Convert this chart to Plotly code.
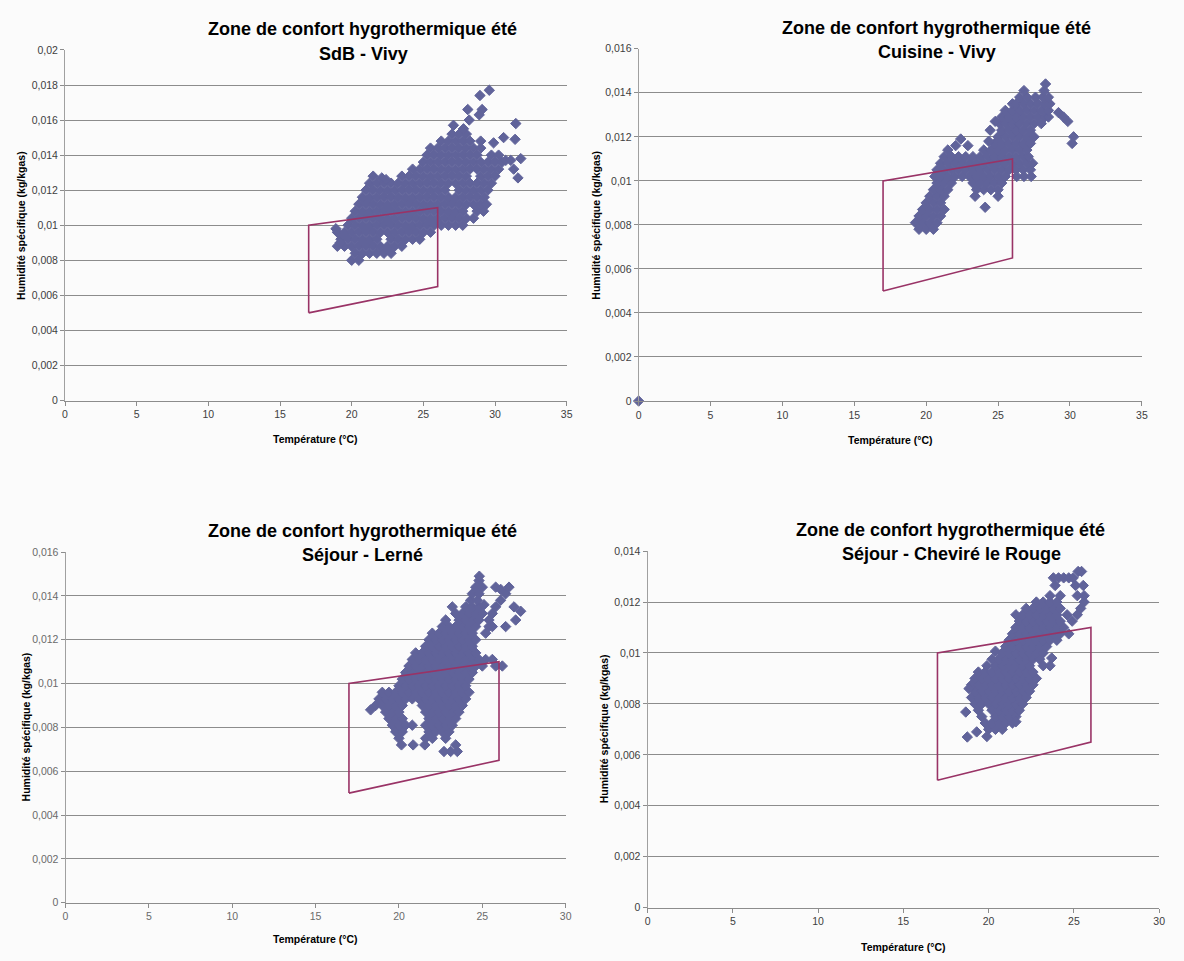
import plotly.graph_objects as go

# ---------------- DATA ----------------
zone_t = [17, 17, 26, 26, 17]
zone_h = [0.005, 0.010, 0.011, 0.0065, 0.005]

x_ticks_35 = [0, 5, 10, 15, 20, 25, 30, 35]
x_ticks_30 = [0, 5, 10, 15, 20, 25, 30]
y_ticks_020 = [0, 0.002, 0.004, 0.006, 0.008, 0.010, 0.012, 0.014, 0.016, 0.018, 0.020]
y_text_020 = ["0", "0,002", "0,004", "0,006", "0,008", "0,01", "0,012", "0,014", "0,016", "0,018", "0,02"]
y_ticks_016 = [0, 0.002, 0.004, 0.006, 0.008, 0.010, 0.012, 0.014, 0.016]
y_text_016 = ["0", "0,002", "0,004", "0,006", "0,008", "0,01", "0,012", "0,014", "0,016"]
y_ticks_014 = [0, 0.002, 0.004, 0.006, 0.008, 0.010, 0.012, 0.014]
y_text_014 = ["0", "0,002", "0,004", "0,006", "0,008", "0,01", "0,012", "0,014"]

titles = ["SdB - Vivy", "Cuisine - Vivy", "Séjour - Lerné", "Séjour - Cheviré le Rouge"]

# Panel 1 : SdB - Vivy  (humidity, [temperatures])
p1_rows = [
    (0.0080, [20.0, 20.5]),
    (0.0084, [20.25, 20.75, 21.25, 21.75, 22.25, 22.75]),
    (0.0088, [19.0, 19.5, 20.0, 20.5, 21.0, 21.5, 22.0, 22.5, 23.0, 23.5]),
    (0.0092, [19.25, 19.75, 20.25, 20.75, 21.25, 21.75, 22.75, 23.25, 23.75, 24.25, 24.75]),
    (0.0096, [19.0, 19.5, 20.0, 20.5, 21.0, 21.5, 22.0, 22.5, 23.0, 23.5, 24.0, 24.5, 25.0, 25.5]),
    (0.0100, [19.75, 20.25, 20.75, 21.25, 21.75, 22.25, 22.75, 23.25, 23.75, 24.25, 24.75, 25.25, 25.75,
              26.25, 26.75, 27.25, 27.75]),
    (0.0104, [20.0, 20.5, 21.0, 21.5, 22.0, 22.5, 23.0, 23.5, 24.0, 24.5, 25.0, 25.5, 26.0, 26.5, 27.0,
              27.5, 28.0, 28.5]),
    (0.0108, [20.25, 20.75, 21.25, 21.75, 22.25, 22.75, 23.25, 23.75, 24.25, 24.75, 25.25, 25.75, 26.25,
              26.75, 27.25, 27.75, 28.75, 29.2]),
    (0.0112, [20.5, 21.0, 21.5, 22.0, 22.5, 23.0, 23.5, 24.0, 24.5, 25.0, 25.5, 26.0, 26.5, 27.0, 27.5,
              28.0, 28.5, 29.0, 29.4]),
    (0.0116, [20.75, 21.25, 21.75, 22.25, 22.75, 23.25, 23.75, 24.25, 24.75, 25.25, 25.75, 26.25, 26.75,
              27.25, 27.75, 28.25, 28.75, 29.25]),
    (0.0120, [21.0, 21.5, 22.0, 22.5, 23.0, 23.5, 24.0, 24.5, 25.0, 25.5, 26.0, 26.5, 27.5, 28.0, 28.5,
              29.0, 29.5]),
    (0.0124, [21.25, 21.75, 22.25, 22.75, 23.25, 23.75, 24.25, 24.75, 25.25, 25.75, 26.25, 26.75, 27.25,
              27.75, 28.25, 28.75, 29.25, 29.75]),
    (0.0128, [21.5, 23.5, 24.0, 24.5, 25.0, 25.5, 26.0, 26.5, 27.0, 27.5, 28.0, 29.0, 29.5, 30.0]),
    (0.0132, [24.25, 24.75, 25.25, 25.75, 26.25, 26.75, 27.25, 27.75, 28.25, 28.75, 29.25, 29.75, 30.25]),
    (0.0136, [25.0, 25.5, 26.0, 26.5, 27.0, 27.5, 28.0, 28.5, 29.0, 29.5, 30.0, 30.5]),
    (0.0140, [25.25, 25.75, 26.25, 26.75, 27.25, 27.75, 28.25, 28.75, 29.75, 30.25]),
    (0.0144, [25.5, 26.0, 26.5, 27.0, 27.5, 28.0, 28.5, 29.0]),
    (0.0148, [26.25, 26.75, 27.25, 27.75, 28.25, 29.0]),
    (0.0152, [27.0, 27.5, 28.0]),
]
p1_out_t = [18.9, 19.2, 22.1, 22.4, 27.1, 27.8, 28.2, 28.1, 28.9, 29.1, 28.95, 29.6,
            29.9, 30.6, 31.4, 31.45, 30.75, 31.1, 31.8, 31.3, 31.6]
p1_out_h = [0.0098, 0.0090, 0.0127, 0.0126, 0.0157, 0.0155, 0.0160, 0.0166, 0.0163, 0.0166, 0.0174, 0.0177,
            0.0147, 0.0150, 0.0149, 0.0158, 0.0137, 0.0137, 0.0138, 0.0132, 0.0127]

# Panel 2 : Cuisine - Vivy
p2_rows = [
    (0.0078, [19.5, 20.0, 20.5]),
    (0.0081, [19.25, 19.75, 20.25, 20.75]),
    (0.0084, [19.5, 20.0, 20.5, 21.0]),
    (0.0087, [19.75, 20.25, 20.75, 21.25]),
    (0.0090, [20.0, 20.5, 21.0]),
    (0.0093, [20.25, 20.75, 21.25, 23.4, 25.0]),
    (0.0096, [20.5, 21.0, 21.5, 23.5, 24.0, 24.5, 25.0]),
    (0.0099, [20.75, 21.25, 21.75, 23.25, 23.75, 24.25, 24.75, 25.25]),
    (0.0102, [20.6, 21.0, 21.5, 22.0, 22.5, 23.0, 23.5, 24.0, 24.5, 25.0, 25.5, 26.3, 26.8, 27.3]),
    (0.0105, [20.75, 21.25, 21.75, 22.25, 22.75, 23.25, 23.75, 24.25, 24.75, 25.25, 25.75, 26.25, 26.75, 27.25]),
    (0.0108, [21.0, 21.5, 22.0, 22.5, 23.0, 23.5, 24.0, 24.5, 25.0, 25.5, 26.0, 26.5, 27.0, 27.4]),
    (0.0111, [21.25, 21.75, 22.25, 22.75, 23.25, 23.75, 24.25, 24.75, 25.25, 25.75, 26.25, 26.75, 27.1]),
    (0.0114, [21.5, 24.0, 24.5, 25.0, 25.5, 26.0, 26.5, 27.0]),
    (0.0117, [24.75, 25.25, 25.75, 26.25, 26.75, 27.25]),
    (0.0120, [25.0, 25.5, 26.0, 26.5, 27.0, 27.5]),
    (0.0123, [25.25, 25.75, 26.25, 26.75, 27.25]),
    (0.0126, [25.1, 25.5, 26.0, 26.5, 27.0, 27.5, 28.0]),
    (0.0129, [25.25, 25.75, 26.25, 26.75, 27.25, 27.75, 28.25, 28.5]),
    (0.0132, [25.5, 26.0, 26.5, 27.0, 27.5, 28.0, 28.5]),
    (0.0135, [26.0, 26.25, 26.75, 27.25, 27.75, 28.25, 28.6]),
    (0.0138, [26.5, 27.0, 27.6, 28.1, 28.5]),
    (0.0141, [26.8, 28.2]),
    (0.0144, [28.3]),
]
p2_out_t = [0.0, 24.1, 22.05, 22.9, 22.4, 24.35, 24.45, 24.8, 29.2, 29.55, 29.85, 30.25, 30.15]
p2_out_h = [0.0, 0.0088, 0.0116, 0.0116, 0.0119, 0.0118, 0.0123, 0.0127, 0.0131, 0.0129, 0.0127, 0.0120, 0.0117]

# Panel 3 : Séjour - Lerné
p3_rows = [
    (0.0069, [22.7, 23.1, 23.5]),
    (0.0072, [20.15, 20.85, 21.55, 23.4]),
    (0.0075, [20.0, 21.6, 22.0, 22.8]),
    (0.0078, [19.8, 20.2, 21.8, 22.2, 22.6, 23.0]),
    (0.0081, [19.6, 20.0, 20.4, 20.8, 21.6, 22.0, 22.4, 22.8, 23.2]),
    (0.0084, [19.4, 19.8, 20.2, 21.8, 22.2, 22.6, 23.0, 23.4]),
    (0.0087, [19.2, 19.6, 20.0, 21.6, 22.0, 22.4, 22.8, 23.2, 23.6]),
    (0.0090, [18.6, 19.0, 19.4, 19.8, 20.2, 21.4, 21.8, 22.2, 22.6, 23.0, 23.4, 23.8]),
    (0.0093, [18.8, 19.2, 19.6, 20.0, 20.4, 20.8, 21.2, 21.6, 22.0, 22.4, 22.8, 23.2, 23.6, 24.0]),
    (0.0096, [19.0, 19.4, 19.8, 20.2, 20.6, 21.0, 21.4, 21.8, 22.2, 22.6, 23.0, 23.4, 23.8, 24.2]),
    (0.0099, [20.0, 20.4, 20.8, 21.2, 21.6, 22.0, 22.4, 22.8, 23.2, 23.6, 24.0]),
    (0.0102, [20.2, 20.6, 21.0, 21.4, 21.8, 22.2, 22.6, 23.0, 23.4, 23.8, 24.2]),
    (0.0105, [20.4, 20.8, 21.2, 21.6, 22.0, 22.4, 22.8, 23.2, 23.6, 24.0, 24.4]),
    (0.0108, [20.6, 21.0, 21.4, 21.8, 22.2, 22.6, 23.0, 23.4, 23.8, 24.2, 24.6, 25.0, 25.8, 26.2]),
    (0.0111, [20.8, 21.2, 21.6, 22.0, 22.4, 22.8, 23.2, 23.6, 24.0, 24.4, 24.8, 25.2, 25.6]),
    (0.0114, [21.0, 21.4, 21.8, 22.2, 22.6, 23.0, 23.4, 23.8, 24.2, 24.6]),
    (0.0117, [21.6, 22.0, 22.4, 22.8, 23.2, 23.6, 24.0, 24.4]),
    (0.0120, [21.8, 22.2, 22.6, 23.0, 23.4, 23.8, 24.2, 24.6]),
    (0.0123, [22.0, 22.4, 22.8, 23.2, 23.6, 24.0, 24.4, 25.2]),
    (0.0126, [22.6, 23.0, 23.4, 23.8, 24.2, 24.6, 25.4, 25.6, 26.4]),
    (0.0129, [22.8, 23.6, 24.0, 24.4, 24.8, 25.4, 27.0]),
    (0.0132, [23.4, 23.8, 24.2, 24.6, 25.0, 25.6]),
    (0.0135, [23.2, 24.0, 24.4, 24.8, 25.8, 26.9]),
    (0.0138, [24.3, 24.7, 26.1]),
    (0.0141, [24.4, 24.8, 26.4]),
    (0.0144, [24.6, 25.0, 25.8, 26.6]),
    (0.0147, [24.8]),
]
p3_out_t = [24.82, 26.1, 27.3, 25.1, 18.3, 24.3]
p3_out_h = [0.0149, 0.0143, 0.0133, 0.0136, 0.0088, 0.0108]

# Panel 4 : Séjour - Cheviré le Rouge
p4_rows = [
    (0.00700, [20.0, 20.4, 20.8]),
    (0.00725, [19.8, 20.2, 20.6, 21.0, 21.4]),
    (0.00750, [19.6, 20.4, 20.8, 21.2, 21.6]),
    (0.00775, [19.4, 20.2, 20.6, 21.0, 21.4, 21.8]),
    (0.00800, [19.2, 19.6, 20.0, 20.4, 20.8, 21.2, 21.6, 22.0]),
    (0.00825, [19.0, 19.4, 19.8, 20.2, 20.6, 21.0, 21.4, 21.8, 22.2]),
    (0.00850, [19.2, 19.6, 20.0, 20.4, 20.8, 21.2, 21.6, 22.0, 22.4]),
    (0.00875, [19.0, 19.4, 19.8, 20.2, 20.6, 21.0, 21.4, 21.8, 22.2, 22.6]),
    (0.00900, [19.2, 19.6, 20.0, 20.4, 20.8, 21.2, 21.6, 22.0, 22.4, 22.8]),
    (0.00925, [19.4, 19.8, 20.2, 20.6, 21.0, 21.4, 21.8, 22.2, 22.6]),
    (0.00950, [19.9, 20.4, 20.8, 21.2, 21.6, 22.0, 22.4, 23.2, 23.6]),
    (0.00975, [20.2, 20.6, 21.0, 21.4, 21.8, 22.2, 22.6, 23.0]),
    (0.01000, [20.8, 21.2, 21.6, 22.0, 22.4, 22.8, 23.2]),
    (0.01025, [21.0, 21.4, 21.8, 22.2, 22.6, 23.0, 23.4]),
    (0.01050, [21.2, 21.6, 22.0, 22.4, 22.8, 23.2, 23.6, 24.0]),
    (0.01075, [21.4, 21.8, 22.2, 22.6, 23.0, 23.4, 23.8, 24.2, 24.7]),
    (0.01100, [21.6, 22.0, 22.4, 22.8, 23.2, 23.6, 24.0, 24.4]),
    (0.01125, [21.8, 22.2, 22.6, 23.0, 23.4, 23.8, 24.2, 24.9]),
    (0.01150, [21.6, 22.0, 22.4, 22.8, 23.2, 23.6, 24.0, 24.6, 25.2]),
    (0.01175, [22.2, 22.6, 23.0, 23.4, 23.8, 24.2, 25.4]),
    (0.01200, [22.8, 23.2, 23.6, 24.0, 25.6]),
    (0.01225, [23.6, 24.2, 25.2, 25.6]),
    (0.01265, [23.9, 25.1, 25.55]),
    (0.01295, [23.8, 24.1, 24.4, 24.7, 24.96]),
    (0.01320, [25.25, 25.45]),
]
p4_out_t = [18.75, 19.3, 19.9, 21.6, 18.66, 18.85, 23.7, 20.4]
p4_out_h = [0.0067, 0.0069, 0.00672, 0.0073, 0.00768, 0.0086, 0.0098, 0.01007]


def flatten(rows, out_t, out_h):
    xs, ys = [], []
    for h, ts in rows:
        for t in ts:
            xs.append(t)
            ys.append(h)
    return xs + list(out_t), ys + list(out_h)


panels = [
    dict(rows=p1_rows, ot=p1_out_t, oh=p1_out_h, xr=35, xt=x_ticks_35, yr=0.020, yt=y_ticks_020, ytt=y_text_020,
         xd=(62.5, 568.0), yd=(44.5, 399.5), title=(362, 23.5), sub=(363, 48.5), xtitle=(315, 438), ytitle=(18, 222),
         tickcol="#404040"),
    dict(rows=p2_rows, ot=p2_out_t, oh=p2_out_h, xr=35, xt=x_ticks_35, yr=0.016, yt=y_ticks_016, ytt=y_text_016,
         xd=(640.5, 1147.6), yd=(43.3, 400.0), title=(941, 22), sub=(941, 46.3), xtitle=(894, 439), ytitle=(598, 222),
         tickcol="#404040"),
    dict(rows=p3_rows, ot=p3_out_t, oh=p3_out_h, xr=30, xt=x_ticks_30, yr=0.016, yt=y_ticks_016, ytt=y_text_016,
         xd=(63.0, 567.0), yd=(553.0, 908.0), title=(362, 532), sub=(362.4, 556.3), xtitle=(315, 945),
         ytitle=(22.7, 730), tickcol="#6a6a6a"),
    dict(rows=p4_rows, ot=p4_out_t, oh=p4_out_h, xr=30, xt=x_ticks_30, yr=0.014, yt=y_ticks_014, ytt=y_text_014,
         xd=(649.5, 1165.0), yd=(552.0, 913.0), title=(955, 530.3), sub=(955.5, 554.7), xtitle=(907.6, 952.7),
         ytitle=(605, 732), tickcol="#404040"),
]

W, H = 1184, 961
TICKFONT = "Liberation Sans Narrow, Arial Narrow, Liberation Sans, Arial, sans-serif"
FONT = "Liberation Sans, Arial, Helvetica, sans-serif"
MARKER_COLOR = "#60639a"
ZONE_COLOR = "#993366"
GRID = "#8c8c8c"

fig = go.Figure()
annotations = []
layout_axes = {}

for i, p in enumerate(panels):
    n = "" if i == 0 else str(i + 1)
    xa, ya = "x" + n, "y" + n
    xs, ys = flatten(p["rows"], p["ot"], p["oh"])
    fig.add_trace(go.Scatter(
        x=xs, y=ys, mode="markers", xaxis=xa, yaxis=ya, showlegend=False, cliponaxis=False,
        marker=dict(symbol="diamond", size=8, color=MARKER_COLOR, line=dict(width=1, color=MARKER_COLOR)),
        hoverinfo="skip"))
    fig.add_trace(go.Scatter(
        x=zone_t, y=zone_h, mode="lines", xaxis=xa, yaxis=ya, showlegend=False,
        line=dict(color=ZONE_COLOR, width=1.6), hoverinfo="skip"))

    layout_axes["xaxis" + n] = dict(
        domain=[p["xd"][0] / W, p["xd"][1] / W], range=[0, p["xr"]], anchor=ya,
        tickmode="array", tickvals=p["xt"], ticktext=[str(v) for v in p["xt"]],
        showgrid=False, zeroline=False, showline=True, linecolor=GRID, linewidth=1,
        ticks="outside", ticklen=4, tickcolor=GRID,
        tickfont=dict(family=TICKFONT, size=10.5, color=p["tickcol"]), fixedrange=True)
    layout_axes["yaxis" + n] = dict(
        domain=[1 - p["yd"][1] / H, 1 - p["yd"][0] / H], range=[0, p["yr"]], anchor=xa,
        tickmode="array", tickvals=p["yt"], ticktext=p["ytt"],
        showgrid=True, gridcolor=GRID, gridwidth=1, zeroline=False,
        showline=True, linecolor="#a0a0a0", linewidth=1,
        ticks="outside", ticklen=4, tickcolor=GRID,
        tickfont=dict(family=TICKFONT, size=10.5, color=p["tickcol"]), fixedrange=True)

    for (txt, pos, size, angle) in [
        ("Zone de confort hygrothermique été", p["title"], 18, 0),
        (titles[i], p["sub"], 18, 0),
        ("Température (°C)", p["xtitle"], 10.5, 0),
        ("Humidité spécifique (kg/kgas)", p["ytitle"], 10.5, -90),
    ]:
        annotations.append(dict(
            text=txt, x=pos[0] / W, y=1 - pos[1] / H, xref="paper", yref="paper",
            xanchor="center", yanchor="middle", showarrow=False, textangle=angle,
            font=dict(family=FONT, size=size, color="#000000", weight="bold")))

fig.update_layout(
    width=W, height=H, autosize=False,
    margin=dict(l=0, r=0, t=0, b=0, pad=0),
    paper_bgcolor="#fbfbfb", plot_bgcolor="#fbfbfb",
    annotations=annotations, showlegend=False,
    **layout_axes)

fig.write_html("out.html", config={"displayModeBar": False},
               post_script="document.body.style.margin='0px';document.body.style.overflow='hidden';")
